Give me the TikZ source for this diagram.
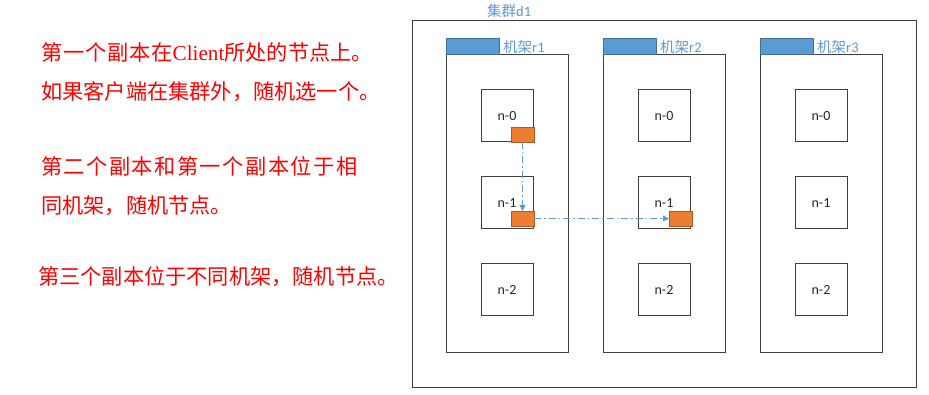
\documentclass[tikz,border=0pt]{standalone}
\usepackage{fontspec}
\setmainfont{Noto Sans CJK SC}
\newfontfamily\cjkloose[LetterSpace=4]{Noto Sans CJK SC}
\newfontfamily\cjkwide[LetterSpace=7]{Noto Sans CJK SC}
\newfontfamily\serifen{Liberation Serif}
\newfontfamily\calfont{Carlito}
\usetikzlibrary{arrows.meta,positioning}
\definecolor{tabblue}{HTML}{5B9BD5}
\definecolor{tabedge}{HTML}{41719C}
\definecolor{repfill}{HTML}{ED7D31}
\definecolor{repedge}{HTML}{AE5A21}
\definecolor{boxedge}{HTML}{404040}

\begin{document}
\begin{tikzpicture}[
  x=1pt, y=-1pt,
  node distance=35pt,
  cluster/.style={draw=boxedge,line width=1pt,outer sep=0pt,
                  minimum width=504pt,minimum height=366pt},
  rack/.style={draw=boxedge,line width=1pt,outer sep=0pt,
               minimum width=122pt,minimum height=297pt},
  tab/.style={draw=tabedge,fill=tabblue,line width=1pt,outer sep=0pt,
              inner sep=0pt,minimum width=53pt,minimum height=16pt},
  srv/.style={draw=boxedge,line width=1pt,outer sep=0pt,inner sep=0pt,
              minimum size=52pt,text=black!85,
              font=\calfont\fontsize{14}{15}\selectfont},
  rep/.style={draw=repedge,fill=repfill,line width=0.8pt,outer sep=0pt,
              inner sep=0pt,minimum width=23pt,minimum height=15pt},
  lbl/.style={text=tabblue,inner sep=0pt,font=\fontsize{14.5}{16}\selectfont},
  note/.style={text=red,inner sep=0pt,align=left,anchor=west,
               font=\fontsize{21.2}{39}\selectfont},
  arr/.style={-{Triangle[length=6pt,width=6pt]},draw=tabblue,line width=0.9pt,
              dash pattern=on 7pt off 3pt on 1.5pt off 3pt}
]
\useasboundingbox (0,0) rectangle (929,395);

% left notes
\node[note] (step1) at (41,72.5) {{\cjkloose 第一个副本在}{\serifen Client}所处的节点上。\\如果客户端在集群外，随机选一个。};
\node[note] (step2) at (41,186) {{\cjkwide 第二个副本和第一个副本位于相}\\同机架，随机节点。};
\node[note] (step3) at (38,277) {第三个副本位于不同机架，随机节点。};

% cluster and racks
\node[cluster] (d1) at (664,204) {};
\node[lbl,anchor=west] (d1lbl) at (487,11) {集群{\calfont d1}};

\node[rack,below right=34pt and 34pt of d1.north west] (r1) {};
\node[rack,right=of r1] (r2) {};
\node[rack,right=of r2] (r3) {};

\node[tab,above right=0pt and 0pt of r1.north west] (tab1) {};
\node[tab,above right=0pt and 0pt of r2.north west] (tab2) {};
\node[tab,above right=0pt and 0pt of r3.north west] (tab3) {};
\node[lbl,right=4pt of tab1] (r1lbl) {机架{\calfont r1}};
\node[lbl,right=4pt of tab2] (r2lbl) {机架{\calfont r2}};
\node[lbl,right=4pt of tab3] (r3lbl) {机架{\calfont r3}};

% servers
\node[srv,below=35pt of r1.north] (a0) {n-0};
\node[srv,below=of a0] (a1) {n-1};
\node[srv,below=of a1] (a2) {n-2};
\node[srv,below=35pt of r2.north] (b0) {n-0};
\node[srv,below=of b0] (b1) {n-1};
\node[srv,below=of b1] (b2) {n-2};
\node[srv,below=35pt of r3.north] (c0) {n-0};
\node[srv,below=of c0] (c1) {n-1};
\node[srv,below=of c1] (c2) {n-2};

% replicas
\node[rep,anchor=south east] (rep1) at ([xshift=1pt]a0.south east) {};
\node[rep,anchor=south east] (rep2) at ([shift={(1pt,3pt)}]a1.south east) {};
\node[rep,anchor=south east] (rep3) at ([shift={(2pt,3pt)}]b1.south east) {};

\draw[arr] (rep1) -- (rep2);
\draw[arr] (rep2) -- (rep3);
\end{tikzpicture}
\end{document}
